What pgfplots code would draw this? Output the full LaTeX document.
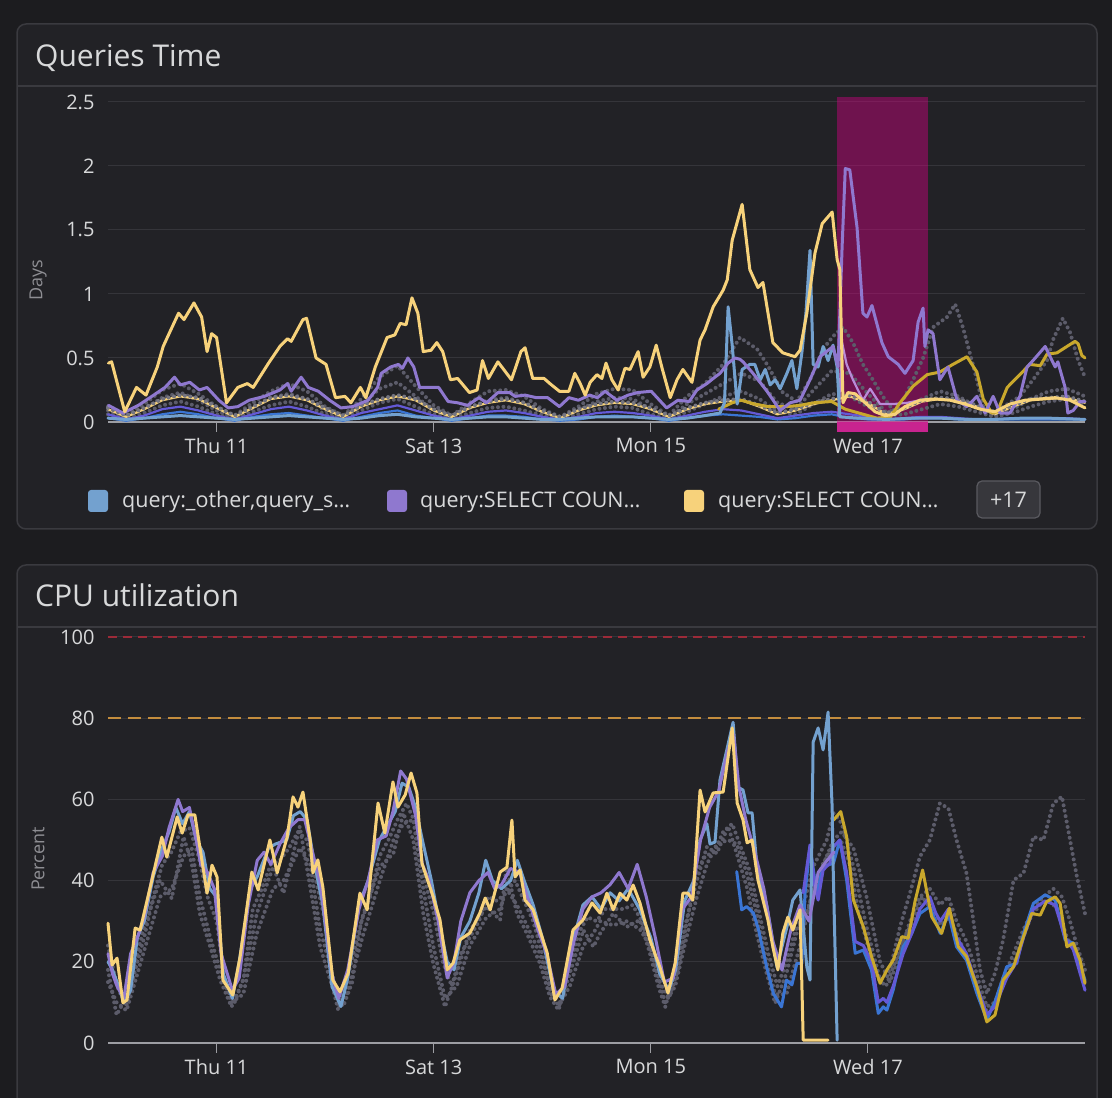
\documentclass[border=0pt]{standalone}
\usepackage{fontspec}
\setmainfont{Open Sans}
\usepackage{pgfplots}
\pgfplotsset{compat=1.18}
\definecolor{bgout}{HTML}{1C1C1F}
\definecolor{panel}{HTML}{222226}
\definecolor{border}{HTML}{3A3A3F}
\definecolor{txt}{HTML}{D8D9DA}
\definecolor{lbl}{HTML}{8E8E93}
\definecolor{gridc}{HTML}{35353A}
\definecolor{zeroc}{HTML}{9D9EA3}
\definecolor{cblue}{HTML}{73A1CF}
\definecolor{cpurple}{HTML}{8F78CF}
\definecolor{cyellow}{HTML}{F7D27B}
\definecolor{cgold}{HTML}{C9A82C}
\definecolor{cdblue}{HTML}{3A75D4}
\definecolor{cindigo}{HTML}{6459D6}
\definecolor{cdot}{HTML}{5C5C6A}
\definecolor{cpink}{HTML}{B98AD8}
\definecolor{hl}{RGB}{218,0,134}
\definecolor{hlstrip}{HTML}{C8248F}
\definecolor{corange}{HTML}{C48D3D}
\definecolor{cred}{HTML}{9C2A38}
\definecolor{btnfill}{HTML}{37373C}
\definecolor{btnborder}{HTML}{5A5A60}
\pgfplotsset{
  mainline/.style={line width=3pt, line join=round, line cap=round, mark=none},
  lowline/.style={line width=2.2pt, line join=round, line cap=round, mark=none},
  dotline/.style={cdot, line width=4pt, line cap=round, dash pattern=on 0pt off 5.5pt, mark=none},
  myaxis/.style={
    scale only axis, width=977pt, xmin=0, xmax=216,
    axis x line*=bottom, axis y line*=left,
    y axis line style={draw=none},
    x axis line style={draw=zeroc, line width=1.5pt},
    xtick={24,72,120,168},
    xticklabels={Thu 11, Sat 13, Mon 15, Wed 17},
    ytick style={draw=none},
    xtick style={draw=zeroc, line width=1.2pt},
    major tick length=10pt, tick align=outside,
    minor tick num=0,
    ymajorgrids, grid style={gridc, line width=1pt},
    tick label style={font=\fontsize{20}{24}\selectfont, text=txt},
    xticklabel style={yshift=-3pt},
    /pgf/number format/assume math mode=true,
    clip=false,
  },
}
\begin{document}
\begin{tikzpicture}[x=1pt,y=1pt]
\useasboundingbox (0,0) rectangle (1112,1098);
\clip (0,0) rectangle (1112,1098);
\fill[bgout] (0,0) rectangle (1112,1098);
% panels
\draw[border, fill=panel, line width=1.5pt, rounded corners=9pt] (17,569) rectangle (1097,1074);
\draw[border, line width=1.5pt] (17,1012) -- (1097,1012);
\draw[border, fill=panel, line width=1.5pt, rounded corners=9pt] (17,-30) rectangle (1097,533);
\draw[border, line width=1.5pt] (17,471) -- (1097,471);
\node[anchor=base west, text=txt, font=\fontsize{30}{36}\selectfont, inner sep=0pt] at (35,1031) {Queries Time};
\node[anchor=base west, text=txt, font=\fontsize{30}{36}\selectfont, inner sep=0pt] at (35,491) {CPU utilization};
\node[rotate=90, text=lbl, font=\fontsize{18}{22}\selectfont] at (38,818) {Days};
\node[rotate=90, text=lbl, font=\fontsize{18}{22}\selectfont] at (38,239) {Percent};
% legend
\fill[cblue, rounded corners=3pt] (88,586) rectangle (108,608);
\node[anchor=base west, text=txt, font=\fontsize{21.5}{25}\selectfont, inner sep=0pt] at (122,590) {query:\_other,query\_s…};
\fill[cpurple, rounded corners=3pt] (387,586) rectangle (407,608);
\node[anchor=base west, text=txt, font=\fontsize{21.5}{25}\selectfont, inner sep=0pt] at (420,590) {query:SELECT COUN…};
\fill[cyellow, rounded corners=3pt] (684,586) rectangle (704,608);
\node[anchor=base west, text=txt, font=\fontsize{21.5}{25}\selectfont, inner sep=0pt] at (718,590) {query:SELECT COUN…};
\draw[btnborder, fill=btnfill, rounded corners=5pt, line width=1.2pt] (977,580) rectangle (1040,617);
\node[text=txt, font=\fontsize{21.5}{25}\selectfont] at (1008.5,598.5) {+17};

% ---------------- Queries Time ----------------
\begin{axis}[myaxis, at={(108pt,676pt)}, anchor=south west, height=320pt,
  ymin=0, ymax=2.5, ytick={0,0.5,1,1.5,2,2.5}]
% highlight band
\addplot[draw=none, fill=hl, fill opacity=0.42] coordinates {(161.2,-0.078) (181.3,-0.078) (181.3,2.539) (161.2,2.539)} -- cycle;
\addplot[draw=none, fill=hlstrip] coordinates {(161.2,-0.078) (181.3,-0.078) (181.3,0) (161.2,0)} -- cycle;
% dotted background series
\addplot[dotline] coordinates {(0,0.12)(4,0.05)(8,0.14)(12,0.25)(16,0.30)(20,0.22)(24,0.12)(28,0.05)(32,0.15)(36,0.24)(40,0.30)(44,0.24)(48,0.12)(52,0.05)(56,0.18)(60,0.35)(64,0.44)(68,0.28)(72,0.13)(76,0.05)(80,0.15)(84,0.24)(88,0.25)(92,0.20)(96,0.10)(100,0.04)(104,0.12)(108,0.22)(112,0.26)(116,0.25)(120,0.14)(124,0.05)(128,0.20)(132,0.30)(136,0.45)(139.7,0.66)(143.5,0.57)(145.7,0.45)(149.2,0.23)(152.3,0.16)(155.2,0.33)(158.1,0.57)(160.3,0.67)(162.5,0.74)(164.7,0.62)(166.9,0.45)(169.1,0.33)(171.3,0.20)(173.6,0.09)(175.8,0.17)(178.0,0.33)(180.2,0.50)(181.7,0.66)(182.4,0.74)(185.5,0.82)(187.3,0.92)(189.0,0.74)(190.6,0.53)(192.1,0.33)(193.5,0.12)(196,0.08)(198,0.12)(201.6,0.20)(204.5,0.33)(207.6,0.48)(208.9,0.64)(211.1,0.81)(212.7,0.70)(214.5,0.48)(216,0.35)};
\addplot[dotline] coordinates {(0,0.06)(4,0.02)(8,0.07)(12,0.13)(16,0.16)(20,0.12)(24,0.06)(28,0.02)(32,0.08)(36,0.13)(40,0.16)(44,0.12)(48,0.06)(52,0.02)(56,0.09)(60,0.15)(64,0.18)(68,0.12)(72,0.06)(76,0.02)(80,0.07)(84,0.11)(88,0.12)(92,0.09)(96,0.05)(100,0.02)(104,0.06)(108,0.10)(112,0.12)(116,0.11)(120,0.06)(124,0.02)(128,0.08)(132,0.14)(136,0.20)(140,0.24)(144,0.18)(148,0.08)(152,0.06)(156,0.14)(160,0.22)(164,0.20)(168,0.12)(172,0.05)(176,0.06)(180,0.10)(184,0.14)(188,0.12)(192,0.08)(196,0.04)(200,0.07)(204,0.12)(208,0.16)(212,0.18)(216,0.13)};
\addplot[dotline] coordinates {(0,0.09)(4,0.03)(8,0.10)(12,0.19)(16,0.23)(20,0.17)(24,0.09)(28,0.03)(32,0.11)(36,0.19)(40,0.22)(44,0.18)(48,0.09)(52,0.03)(56,0.13)(60,0.26)(64,0.31)(68,0.20)(72,0.09)(76,0.03)(80,0.11)(84,0.17)(88,0.19)(92,0.15)(96,0.07)(100,0.03)(104,0.09)(108,0.16)(112,0.19)(116,0.18)(120,0.10)(124,0.03)(128,0.14)(132,0.22)(136,0.30)(140,0.38)(144,0.32)(148,0.15)(152,0.10)(156,0.25)(160,0.40)(164,0.38)(168,0.22)(172,0.08)(176,0.10)(180,0.18)(184,0.24)(188,0.20)(192,0.12)(196,0.05)(200,0.10)(204,0.18)(208,0.24)(212,0.26)(216,0.20)};
% low series
\addplot[lowline, cdblue] coordinates {(0,0.03)(4,0.01)(8,0.03)(12,0.06)(16,0.08)(20,0.06)(24,0.03)(28,0.01)(32,0.04)(36,0.06)(40,0.07)(44,0.05)(48,0.03)(52,0.01)(56,0.04)(60,0.07)(64,0.09)(68,0.05)(72,0.03)(76,0.01)(80,0.03)(84,0.05)(88,0.05)(92,0.04)(96,0.02)(100,0.01)(104,0.02)(108,0.04)(112,0.05)(116,0.04)(120,0.03)(124,0.01)(128,0.03)(132,0.05)(136,0.06)(140,0.05)(144,0.04)(148,0.02)(152,0.03)(156,0.05)(160,0.06)(164,0.03)(168,0.02)(172,0.02)(176,0.02)(180,0.03)(184,0.03)(188,0.02)(192,0.02)(196,0.02)(200,0.02)(204,0.02)(208,0.02)(212,0.02)(216,0.02)};
\addplot[lowline, cindigo] coordinates {(0,0.06)(4,0.02)(8,0.05)(12,0.10)(16,0.12)(20,0.09)(24,0.05)(28,0.02)(32,0.06)(36,0.10)(40,0.12)(44,0.09)(48,0.05)(52,0.02)(56,0.07)(60,0.10)(64,0.13)(68,0.09)(72,0.05)(76,0.02)(80,0.05)(84,0.08)(88,0.09)(92,0.07)(96,0.04)(100,0.02)(104,0.04)(108,0.07)(112,0.08)(116,0.07)(120,0.05)(124,0.02)(128,0.05)(132,0.08)(136,0.10)(140,0.09)(144,0.06)(148,0.03)(152,0.05)(156,0.07)(160,0.08)(164,0.06)(168,0.04)(172,0.02)(176,0.03)(180,0.04)(184,0.04)(188,0.03)(192,0.02)(196,0.02)(200,0.03)(204,0.03)(208,0.03)(212,0.03)(216,0.02)};
\addplot[lowline, cyellow] coordinates {(0,0.10)(4,0.04)(8,0.10)(12,0.17)(16,0.20)(20,0.18)(24,0.11)(28,0.04)(32,0.11)(36,0.18)(40,0.20)(44,0.17)(48,0.10)(52,0.04)(56,0.12)(60,0.17)(64,0.20)(68,0.17)(72,0.09)(76,0.04)(80,0.11)(84,0.15)(88,0.17)(92,0.14)(96,0.08)(100,0.03)(104,0.09)(108,0.13)(112,0.15)(116,0.14)(120,0.10)(124,0.04)(128,0.10)(132,0.14)(136,0.16)(140,0.17)(144,0.12)(148,0.06)(152,0.09)(156,0.14)(160,0.17)(164,0.20)(168,0.15)(172,0.06)(176,0.10)(180,0.16)(184,0.18)(188,0.17)(192,0.12)(196,0.06)(200,0.12)(204,0.17)(208,0.18)(212,0.19)(216,0.15)};
\addplot[dotline, cdot!85!white] coordinates {(0,0.11)(4,0.05)(8,0.11)(12,0.18)(16,0.21)(20,0.19)(24,0.12)(28,0.05)(32,0.12)(36,0.19)(40,0.21)(44,0.18)(48,0.11)(52,0.05)(56,0.13)(60,0.18)(64,0.21)(68,0.18)(72,0.10)(76,0.05)(80,0.12)(84,0.16)(88,0.18)(92,0.15)(96,0.09)(100,0.04)(104,0.10)(108,0.14)(112,0.16)(116,0.15)(120,0.11)(124,0.05)(128,0.11)(132,0.15)(136,0.17)(140,0.18)(144,0.13)(148,0.07)(152,0.10)(156,0.15)(160,0.18)(164,0.21)(168,0.16)(172,0.07)(176,0.11)(180,0.17)(184,0.19)(188,0.18)(192,0.13)(196,0.07)(200,0.13)(204,0.18)(208,0.19)(212,0.20)(216,0.16)};
\addplot[lowline, cpink] coordinates {(161.5,0.05)(162.3,0.62)(163.3,0.45)(164.7,0.33)(166.9,0.17)(168.5,0.26)(170.7,0.14)(173.6,0.14)(176.7,0.15)(179.5,0.17)(181.3,0.18)};
% main series
\addplot[mainline, cgold] coordinates {(135,0.10)(138,0.15)(140,0.17)(143,0.14)(146,0.12)(150,0.12)(153,0.13)(156,0.15)(160,0.16)(163,0.10)(167,0.06)(170,0.03)(173,0.04)(175.1,0.15)(178.0,0.28)(181.1,0.37)(183.9,0.39)(186.8,0.45)(189.9,0.51)(192.1,0.39)(193.5,0.18)(195.4,0.07)(196.6,0.08)(198.8,0.27)(201.6,0.37)(203.8,0.45)(206.1,0.44)(207.6,0.53)(209.8,0.54)(212.0,0.59)(213.8,0.63)(214.5,0.61)(215.3,0.52)(216.0,0.50)};
\addplot[mainline, cblue] coordinates {(0,0.03)(4,0.02)(8,0.03)(12,0.04)(16,0.05)(20,0.04)(24,0.03)(28,0.02)(32,0.03)(36,0.04)(40,0.05)(44,0.04)(48,0.03)(52,0.02)(56,0.03)(60,0.05)(64,0.06)(68,0.04)(72,0.03)(76,0.02)(80,0.03)(84,0.04)(88,0.04)(92,0.03)(96,0.02)(100,0.02)(104,0.03)(108,0.04)(112,0.04)(116,0.04)(120,0.03)(124,0.02)(128,0.03)(132,0.05)(135.3,0.07)(136.3,0.15)(137.1,0.90)(138.0,0.60)(139.1,0.14)(140.2,0.41)(141.9,0.45)(143.0,0.45)(144.2,0.33)(145.3,0.41)(146.4,0.29)(147.5,0.33)(148.6,0.26)(150.1,0.38)(151.2,0.48)(152.3,0.26)(153.4,0.54)(154.3,0.85)(155.2,1.34)(155.9,0.45)(157.0,0.43)(158.1,0.59)(159.2,0.48)(160.3,0.60)(161.2,0.43)(161.8,0.04)(166,0.03)(172,0.02)(178,0.03)(184,0.03)(190,0.02)(196,0.02)(202,0.03)(208,0.03)(216,0.02)};
\addplot[mainline, cpurple] coordinates {(0.1,0.13)(3.3,0.07)(6.7,0.13)(10.1,0.21)(12.6,0.27)(14.7,0.35)(16.0,0.29)(18.1,0.31)(20.2,0.25)(21.9,0.27)(24.5,0.17)(26.6,0.11)(28.7,0.12)(31.2,0.17)(34.6,0.20)(38.0,0.25)(39.7,0.30)(40.5,0.24)(42.7,0.35)(44.3,0.27)(46.5,0.24)(49.0,0.17)(51.5,0.11)(54.1,0.12)(57.5,0.17)(59.6,0.27)(60.4,0.38)(62.5,0.43)(64.2,0.45)(65.1,0.42)(66.3,0.50)(67.6,0.43)(68.9,0.27)(71.9,0.27)(73.1,0.27)(75.2,0.16)(77.3,0.15)(79.5,0.13)(82.0,0.19)(83.7,0.15)(86.2,0.23)(88.8,0.23)(90.0,0.20)(92.2,0.21)(94.7,0.19)(97.2,0.19)(99.8,0.12)(101.9,0.19)(104.0,0.17)(106.5,0.21)(108.2,0.19)(109.9,0.24)(112.5,0.17)(115.0,0.21)(117.1,0.23)(120.1,0.24)(123.5,0.11)(126.0,0.17)(128.5,0.16)(130.2,0.25)(132.4,0.30)(133.8,0.34)(135.3,0.38)(137.1,0.46)(138.6,0.50)(139.7,0.49)(140.4,0.47)(142.6,0.38)(145.7,0.24)(148.6,0.09)(150.8,0.15)(153.0,0.17)(155.2,0.33)(157.4,0.51)(160.3,0.59)(161.4,0.43)(162.3,1.37)(163.0,1.98)(164.0,1.97)(165.6,1.52)(166.9,0.85)(167.8,0.82)(168.9,0.91)(171.1,0.62)(172.5,0.51)(174.7,0.45)(176.2,0.38)(178.0,0.48)(179.1,0.78)(180.2,0.89)(180.6,0.59)(181.3,0.72)(182.4,0.69)(183.9,0.33)(185.7,0.43)(187.7,0.17)(189.9,0.12)(192.1,0.20)(193.9,0.07)(195.7,0.20)(197.2,0.07)(199.4,0.07)(201.6,0.20)(203.2,0.43)(204.5,0.48)(207.2,0.59)(209.4,0.43)(210.0,0.47)(211.6,0.27)(212.2,0.07)(213.4,0.09)(214.9,0.16)(216.0,0.16)};
\addplot[mainline, cyellow] coordinates {(0.1,0.46)(0.8,0.47)(3.7,0.08)(6.3,0.27)(8.4,0.21)(10.9,0.43)(12.2,0.59)(13.5,0.69)(15.6,0.85)(16.8,0.80)(19.0,0.93)(20.7,0.82)(21.9,0.55)(22.9,0.69)(24.0,0.66)(26.2,0.15)(28.7,0.27)(30.8,0.30)(32.1,0.27)(35.5,0.46)(38.0,0.59)(39.7,0.65)(40.5,0.63)(43.1,0.80)(43.9,0.81)(46.0,0.50)(48.2,0.45)(50.3,0.19)(52.4,0.20)(53.7,0.15)(55.8,0.27)(57.0,0.19)(59.1,0.43)(61.7,0.66)(63.4,0.68)(64.6,0.77)(65.9,0.76)(67.2,0.97)(68.5,0.85)(69.7,0.55)(71.4,0.56)(72.7,0.62)(74.0,0.55)(75.7,0.33)(77.3,0.34)(79.9,0.23)(81.6,0.25)(82.8,0.48)(84.1,0.34)(86.2,0.47)(89.2,0.33)(91.3,0.55)(92.2,0.58)(93.9,0.34)(96.4,0.34)(97.7,0.30)(99.8,0.24)(101.9,0.24)(103.2,0.38)(104.4,0.30)(105.5,0.21)(106.6,0.31)(108.1,0.37)(109.2,0.34)(110.1,0.46)(111.4,0.33)(112.8,0.25)(114.3,0.42)(115.4,0.41)(117.2,0.55)(118.3,0.35)(119.8,0.43)(121.2,0.60)(122.5,0.42)(124.3,0.19)(125.8,0.33)(127.1,0.41)(129.1,0.31)(130.9,0.64)(132.0,0.72)(133.8,0.90)(136.0,1.03)(136.9,1.11)(138.0,1.42)(140.2,1.70)(141.9,1.19)(143.7,1.05)(144.8,1.09)(147.0,0.62)(149.2,0.54)(151.9,0.51)(153.0,0.56)(154.5,0.85)(156.3,1.32)(157.9,1.55)(160.1,1.64)(161.2,1.27)(161.8,1.19)(162.5,0.15)(163.6,0.23)(165.2,0.22)(167.4,0.15)(169.6,0.08)(171.8,0.05)(174.0,0.06)(176.2,0.12)(179.5,0.17)(182.8,0.18)(186.2,0.17)(189.5,0.14)(192.8,0.10)(196.1,0.08)(199.4,0.14)(202.7,0.17)(206.1,0.18)(209.4,0.19)(212.7,0.17)(216.0,0.11)};
\end{axis}

% ---------------- CPU utilization ----------------
\begin{axis}[myaxis, at={(108pt,55pt)}, anchor=south west, height=406pt,
  ymin=0, ymax=100, ytick={0,20,40,60,80,100}]
\addplot[cred, line width=1.2pt, dash pattern=on 9pt off 6pt, mark=none] coordinates {(0,100)(216,100)};
\addplot[corange, line width=1.6pt, dash pattern=on 13pt off 7pt, mark=none] coordinates {(0,80)(216,80)};
% dotted
\addplot[dotline] coordinates {(0,18)(1.9,6.9)(4.1,11.4)(7.8,27.8)(11.5,40.1)(14.1,35.6)(16.7,50.8)(18.5,44.3)(20.3,31.9)(22.6,23.7)(24.8,15.5)(27.3,8.9)(29.9,15.5)(32.9,31.9)(36.5,43.4)(38.8,36.9)(42.4,53.3)(44.7,38.5)(46.9,23.7)(49.8,13.1)(50.9,8.1)(52.8,15.5)(56.5,31.9)(60.1,43.4)(63.1,46.7)(65.3,56.6)(67.5,50.0)(69.7,31.9)(71.9,19.6)(74.5,8.9)(77.1,17.2)(80.0,27.8)(83.7,33.6)(86.7,30.3)(88.1,43.4)(90.4,31.9)(92.6,27.0)(95.5,19.6)(97.7,11.4)(99.6,8.1)(102.1,17.2)(105.1,27.8)(107.3,23.7)(108.8,27.0)(111.7,31.9)(114.7,28.6)(117.6,30.3)(119.8,22.1)(121.7,13.9)(123.2,8.9)(125.4,18.0)(127.9,30.3)(130.2,40.1)(132.4,48.3)(134.6,46.7)(137.1,53.3)(139.0,46.7)(141.2,38.5)(143.4,27.0)(145.6,17.2)(147.5,9.8)(150.0,17.2)(153.0,30.3)(155.9,43.4)(158.9,50.0)(160.4,56.6)(162.2,54.1)(164.8,43.4)(167.7,28.6)(170.7,15.5)(172.9,18.0)(175.1,28.6)(177.3,36.9)(179.5,45.9)(181.7,50.0)(183.9,59.0)(185.8,57.8)(187.6,50.0)(189.8,41.8)(191.3,30.3)(192.8,18.0)(194.3,12.2)(196.1,17.2)(197.9,25.4)(200.2,40.1)(202.4,41.8)(204.6,50.8)(206.8,50.0)(209.0,59.0)(210.9,60.7)(212.7,50.0)(214.2,41.0)(216.0,31.9)};
\addplot[dotline] coordinates {(0,15)(1.9,10)(4.1,8)(7.8,22)(11.5,36)(14.1,38)(16.7,46)(18.5,48)(20.3,36)(22.6,26)(24.8,18)(27.3,10)(29.9,12)(32.9,27)(36.5,38)(38.8,40)(42.4,48)(44.7,44)(46.9,28)(49.8,16)(50.9,10)(52.8,12)(56.5,27)(60.1,40)(63.1,50)(65.3,54)(67.5,55)(69.7,38)(71.9,24)(74.5,11)(77.1,14)(80,24)(83.7,31)(86.7,33)(88.1,38)(90.4,34)(92.6,29)(95.5,22)(97.7,14)(99.6,9)(102.1,14)(105.1,24)(107.3,27)(108.8,30)(111.7,29)(114.7,30)(117.6,28)(119.8,24)(121.7,16)(123.2,10)(125.4,14)(127.9,26)(130.2,36)(132.4,44)(134.6,49)(137.1,50)(139,49)(141.2,42)(143.4,32)(145.6,20)(147.5,12)(150,12)(153,24)(155.9,38)(158.9,46)(160.4,50)(162.2,52)(164.8,48)(167.7,36)(170.7,20)(172.9,15)(175.1,22)(177.3,30)(179.5,36)(181.7,38)(183.9,34)(185.8,36)(187.6,30)(189.8,25)(191.3,20)(192.8,14)(194.3,9)(196.1,10)(197.9,16)(200.2,22)(202.4,28)(204.6,33)(206.8,36)(209,38)(210.9,36)(212.7,30)(214.2,24)(216,18)};
\addplot[dotline] coordinates {(0,24)(2,14)(4,9)(6,18)(8,26)(10,36)(12,44)(14,47)(16,52)(18,53)(20,46)(22,36)(24,30)(26,14)(28,10)(30,16)(32,33)(34,38)(36,44)(38,45)(40,48)(42,52)(44,50)(46,40)(48,30)(50,13)(52,9)(54,15)(56,30)(58,36)(60,46)(62,50)(64,55)(66,59)(68,54)(70,40)(72,32)(74,20)(76,14)(78,22)(80,26)(82,30)(84,36)(86,35)(88,37)(90,40)(92,35)(94,30)(96,22)(98,12)(100,10)(102,18)(104,27)(106,31)(108,30)(110,33)(112,33)(114,33)(116,34)(118,30)(120,23)(122,15)(124,11)(126,18)(128,30)(130,42)(132,46)(134,47)(136,52)(138,54)(140,48)(142,42)(144,32)(146,22)(148,14)(150,20)(152,28)(154,30)(156,38)(158,44)(160,48)(162,50)(164,44)(166,32)(168,24)(170,16)(172,14)(174,20)(176,26)(178,30)(180,36)(182,33)(184,29)(186,31)(188,26)(190,21)(192,14)(194,8)(196,9)(198,15)(200,19)(202,25)(204,31)(206,34)(208,35)(210,33)(212,26)(214,22)(216,15)};
% later-host series
\addplot[mainline, cdblue] coordinates {(139.0,42.2)(140.1,32.8)(141.2,33.6)(142.7,32.0)(143.8,28)(145.6,18.8)(147.1,12.2)(148.9,8.9)(150.0,15.5)(151.2,14.3)(152.3,19.6)(153.4,19.6)(154.1,36.9)(155.2,48.3)(156.7,36.9)(158.1,43.4)(160.4,44.3)(161.8,50.0)(163.3,40.1)(165.2,22.1)(167.0,22.9)(168.8,18.0)(170.3,7.3)(171.4,8.9)(172.2,8.1)(173.6,13.1)(175.8,23.7)(177.7,27.0)(179.5,31.9)(181.7,33.6)(184.0,27.0)(185.8,31.9)(187.6,23.7)(189.8,20.4)(192.1,12.2)(194.3,5.7)(196.1,10.2)(198.7,18.8)(200.9,19.6)(202.4,27.0)(204.6,34.4)(207.2,36.5)(209.4,35.2)(211.6,25.4)(213.4,24.6)(216.0,15.5)};
\addplot[mainline, cindigo] coordinates {(153.7,37)(155.2,48.8)(156.3,38.4)(157,35.2)(158.1,42.6)(159.6,44.3)(160.3,48.3)(161.8,50)(163.3,42)(165.2,25)(167,24)(168.8,20)(170.3,10)(171.4,11)(172.2,10)(173.6,14)(175.8,22)(177.7,27)(179.5,33)(181.7,36)(183,32)(184,30)(185.8,33)(187.6,26)(189.8,22)(192.1,14)(194.3,7)(196.1,9)(198.7,16)(200.9,20)(202.4,26)(204.6,33)(207.2,35)(209.4,34)(211.6,26)(213.4,23)(216,13)};
\addplot[mainline, cgold] coordinates {(160.4,54.9)(162.0,57.0)(163.3,50.8)(164.8,35.2)(167.0,28.6)(168.8,21.3)(170.7,14.7)(172.2,18.0)(173.6,20.4)(175.5,26.2)(176.9,25.8)(178.4,34.8)(180.1,42.6)(182.1,31.1)(184.3,27.0)(186.0,33.2)(188.0,23.7)(189.8,21.3)(192.1,13.9)(194.3,5.2)(196.1,6.9)(197.9,15.5)(200.2,18.8)(202.4,26.2)(204.2,31.9)(206.1,31.5)(207.5,34.8)(209.4,36.0)(210.5,34.4)(212.0,23.7)(213.4,24.6)(214.9,20.4)(216.0,14.7)};
% main hosts
\addplot[mainline, cblue] coordinates {(0,20)(1,18)(2,15)(3.5,10)(5,13)(6.5,26)(8,30)(10,41)(12,48)(13.5,52)(15,58)(16.5,54)(18,57)(19.5,50)(21,47)(22.5,38)(24,36)(25.5,17)(27.5,11)(29,20)(31.5,38)(33,41)(35.5,48)(37,49)(39.5,50)(41,56)(42.5,57)(44,55)(45.5,45)(47.5,34)(49.5,14)(51.5,9)(53,16)(55.5,34)(57.5,40)(60,50)(62,54)(63.5,57)(65,64)(66.5,63)(68,58)(69.5,50)(71.5,40)(73.5,28)(75,20)(76.5,18)(78,26)(80,30)(82,37)(83.5,45)(85,40)(87,38)(89,40)(90.5,45)(92,40)(94,34)(96,26)(98.5,13)(100.5,11)(102.5,24)(105,34)(107,36)(109,33)(111,37)(113,35)(115,38)(117.5,33)(120,26)(122,17)(124,13)(125.5,18)(127.5,35)(129.5,40)(130.9,50)(132.4,54)(133.1,49)(134.2,49.5)(135.3,64.8)(138.2,79)(139.3,63)(140.4,62.3)(141.5,56.7)(142.4,56.7)(143.5,43.3)(145.7,33.5)(147.9,18.7)(150.1,28.6)(151.4,35.2)(153.0,37.7)(154.5,18.7)(155.2,15.5)(155.9,74.1)(157.0,77.6)(158.1,72.2)(159.2,81.5)(160.1,58.1)(160.3,44.3)(161.2,0.7)};
\addplot[mainline, cpurple] coordinates {(0,22)(1,17)(2,14)(3.5,11)(5,22)(6.5,26)(8,31)(10,42)(12,46)(13.5,53)(15.5,60)(16.5,57)(18,58)(19.5,50)(20.5,44)(22,42)(23.5,38)(25,22)(27.5,13)(29,16)(31,34)(33,45)(34.5,47)(36,44)(38,49)(40,53)(42,55)(43.5,55)(45,48)(47,39)(49.5,17)(51,11)(53,18)(55.5,33)(57.5,40)(59.5,50)(61.5,51)(63,57)(64.7,67)(66,65)(68,56)(69.5,44)(71,40)(73,30)(75,16)(76.5,20)(78,30)(80,37)(82,40)(84,42)(85.5,38)(87,39)(89,43)(91,42)(93,35)(95,28)(97,22)(99,12)(101,14)(103,25)(105,33)(107,36)(109,37)(111,39)(113,42)(115,38)(117,44)(119,36)(121,26)(123,15)(125,16)(127,33)(129,36)(131,50)(133,58)(135,62)(137,72)(138.3,76)(139.5,63)(141,55)(143,47)(145,38)(147,25)(149,18)(151,28)(153,34)(155,30)(157,42)(159,45)(160.5,47)};
\addplot[mainline, cyellow] coordinates {(0,29.5)(0.9,19.2)(2.0,20.9)(3.3,9.9)(4.2,10.6)(6.0,28.3)(7.1,27.8)(9.7,40.1)(11.9,50.7)(13.0,45.8)(15.3,55.7)(16.4,51.7)(17.7,56.2)(19.2,56.2)(20.3,48.3)(21.9,36.9)(23.0,43.8)(24.1,40.9)(25.4,15.5)(27.6,11.8)(29.2,21.2)(31.8,42.1)(33.2,37.7)(35.8,50.0)(37.4,41.9)(39.6,50.7)(40.9,60.6)(42.0,58.1)(43.1,61.8)(44.7,50.0)(45.3,41.9)(46.4,45.1)(47.5,38.4)(49.7,15.5)(51.3,12.6)(53.1,17.2)(55.7,36.9)(57.3,32.8)(59.7,59.1)(61.2,51.7)(63.0,64.3)(64.1,58.1)(65.7,61.1)(67.0,66.5)(68.3,61.6)(69.4,44.3)(71.9,36.0)(73.4,30.3)(75.0,18.0)(76.3,19.7)(77.8,25.4)(80.0,27.1)(82.2,32.0)(83.4,35.7)(84.5,32.8)(86.7,42.1)(88.2,43.3)(89.3,54.9)(90.0,40.9)(91.1,42.6)(92.2,35.2)(94.0,32.8)(97.1,22.2)(98.8,10.6)(100.4,13.5)(102.8,27.8)(105.0,30.3)(107.0,34.5)(108.8,32.0)(110.3,36.9)(111.7,32.8)(113.2,36.9)(114.7,35.2)(116.1,38.9)(117.6,34.5)(119.8,25.4)(122.0,18.7)(123.8,12.3)(125.4,19.7)(127.1,36.9)(128.2,36.9)(129.3,35.2)(130.9,62.3)(132.0,56.9)(133.8,61.6)(136.0,61.8)(138.0,77.6)(139.1,59.1)(140.4,54.9)(141.3,49.3)(142.4,50.0)(143.7,40.1)(144.8,35.2)(145.9,30.3)(147.0,23.6)(148.1,18.0)(149.2,27.1)(150.3,31.0)(151.4,27.8)(153.0,32.8)(153.7,0.7)(159.2,0.7)};
\end{axis}
\end{tikzpicture}
\end{document}
